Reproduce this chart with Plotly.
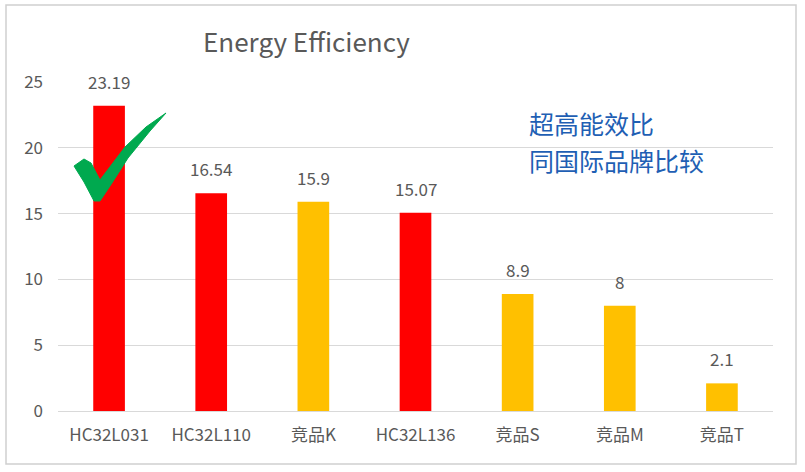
import plotly.graph_objects as go

categories = ["HC32L031", "HC32L110", "竞品K", "HC32L136", "竞品S", "竞品M", "竞品T"]
values = [23.19, 16.54, 15.9, 15.07, 8.9, 8, 2.1]
labels = ["23.19", "16.54", "15.9", "15.07", "8.9", "8", "2.1"]
bar_colors = ["#FF0000", "#FF0000", "#FFC000", "#FF0000", "#FFC000", "#FFC000", "#FFC000"]
y_ticks = [0, 5, 10, 15, 20, 25]
title_text = "Energy Efficiency"
note_lines = ["超高能效比", "同国际品牌比较"]

W, H = 805, 472
ML, MR, MT, MB = 58, 32, 82, 61
PW, PH = W - ML - MR, H - MT - MB

def px(x):
    return (x - ML) / PW

def py(y):
    return (H - MB - y) / PH

FONT = "Noto Sans CJK SC"
GREY = "#595959"

fig = go.Figure()
fig.add_trace(go.Bar(
    x=categories, y=values, marker=dict(color=bar_colors, line=dict(width=0)),
    hoverinfo="x+y",
))

# checkmark path in pixel coordinates -> paper
pts = [(74, 166), (84, 159), (91, 163), (100, 180), (125, 147), (146, 127), (166, 113),
       (150, 131), (128, 158), (112, 183), (100, 201), (94, 201), (84, 182)]
path = "M " + " L ".join(f"{px(a):.5f},{py(b):.5f}" for a, b in pts) + " Z"

annotations = [
    dict(text=t, x=c, y=v, xref="x", yref="y", yanchor="bottom", yshift=10,
         showarrow=False, font=dict(family=FONT, size=17, color=GREY))
    for c, v, t in zip(categories, values, labels)
]
annotations += [
    dict(text=title_text, xref="paper", yref="paper", x=px(306), y=py(40), xanchor="center",
         yanchor="middle", showarrow=False, font=dict(family=FONT, size=26, color=GREY)),
    dict(text=note_lines[0], xref="paper", yref="paper", x=px(527), y=py(123), xanchor="left",
         yanchor="middle", showarrow=False, font=dict(family=FONT, size=25, color="#1F5FB4")),
    dict(text=note_lines[1], xref="paper", yref="paper", x=px(527), y=py(160), xanchor="left",
         yanchor="middle", showarrow=False, font=dict(family=FONT, size=25, color="#1F5FB4")),
]

fig.update_layout(
    width=W, height=H,
    margin=dict(l=ML, r=MR, t=MT, b=MB),
    paper_bgcolor="white", plot_bgcolor="white",
    showlegend=False, bargap=0.69,
    font=dict(family=FONT, color=GREY),
    xaxis=dict(showgrid=False, showline=False, ticks="", tickfont=dict(size=17, color=GREY),
               ticklabelstandoff=12),
    yaxis=dict(range=[0, 25], tickvals=y_ticks, showgrid=True, gridcolor="#D9D9D9", gridwidth=1.3,
               zeroline=True, zerolinecolor="#D9D9D9", zerolinewidth=1.3,
               ticks="", tickfont=dict(size=17, color=GREY), ticklabelstandoff=14),
    shapes=[
        dict(type="rect", xref="paper", yref="paper", x0=px(6), x1=px(796), y0=py(464), y1=py(5),
             line=dict(color="#D0D0D0", width=1.5), layer="below"),
        dict(type="path", xref="paper", yref="paper", path=path,
             fillcolor="#00A94F", line=dict(color="#00A94F", width=1)),
    ],
    annotations=annotations,
)

fig.write_html("out.html", config={"displayModeBar": False},
               post_script="document.body.style.margin='0px';")
